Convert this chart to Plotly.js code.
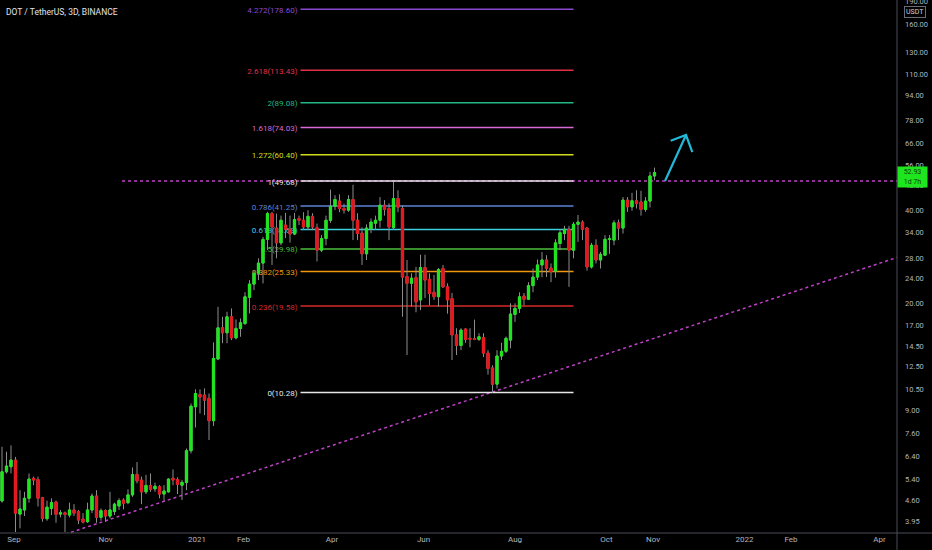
<!DOCTYPE html>
<html><head><meta charset="utf-8">
<script src="https://cdn.plot.ly/plotly-3.0.1.min.js"></script>
<style>html,body{margin:0;padding:0;background:#000;}#chart{width:932px;height:550px;}</style>
</head><body><div id="chart"></div>
<script>
// ---- candle data (3D bars, DOT/USDT) ----
const firstBarDate = '2020-08-24';
const barStepDays = 3;
const open = [4.59,5.70,5.92,6.22,4.16,4.29,4.68,5.43,5.38,4.70,
4.02,4.34,4.55,4.16,4.20,4.13,4.29,4.24,4.01,3.93,
4.29,4.76,4.06,4.27,4.10,4.24,4.42,4.62,4.53,4.80,
5.59,5.36,4.91,5.15,5.02,5.10,4.83,4.91,5.43,5.38,
5.16,5.26,6.67,9.25,10.13,10.10,9.85,8.34,13.20,16.65,
16.05,18.08,15.46,16.58,17.20,20.90,23.06,25.00,26.97,32.17,
39.00,35.00,31.35,35.80,34.70,33.50,37.60,37.10,35.30,38.20,
35.10,29.70,32.40,37.10,41.20,42.80,40.50,40.00,43.30,37.10,
33.70,28.90,34.80,36.30,37.10,41.50,40.50,35.10,43.60,40.50,
24.40,23.20,24.20,20.50,26.10,23.90,21.70,21.00,25.90,22.60,
20.70,15.80,14.60,16.50,15.40,15.35,15.28,15.50,13.80,12.35,
10.95,13.50,13.98,15.20,18.40,19.24,21.10,20.60,22.80,24.30,
26.60,27.60,26.00,25.40,31.20,33.60,34.70,29.70,36.00,36.60,
35.00,26.20,30.80,27.60,28.60,32.20,32.00,36.40,35.00,43.10,
41.00,42.90,42.50,40.20,42.80,51.60];
const high = [6.87,6.62,6.94,6.37,4.97,4.91,5.63,5.50,5.50,4.73,
4.60,4.68,4.60,4.29,4.24,4.53,4.48,4.29,4.19,4.53,
4.85,4.97,4.34,4.31,4.91,4.53,4.68,4.68,5.00,5.89,
6.13,5.50,5.57,5.63,5.26,5.16,5.16,5.43,5.80,5.47,
5.36,6.78,9.48,10.53,10.53,10.61,10.21,14.94,19.47,18.08,
18.77,19.24,17.73,17.86,21.72,23.76,25.60,27.95,32.80,39.50,
39.50,39.00,38.40,39.20,38.40,39.20,38.40,39.40,40.00,39.10,
36.20,33.20,38.40,46.60,44.70,45.00,42.00,44.70,48.30,39.10,
35.20,36.00,37.60,38.40,44.10,43.10,42.10,49.40,46.40,41.50,
27.60,25.00,26.20,28.70,28.70,25.00,24.70,26.00,26.60,23.20,
21.60,16.60,16.60,16.60,16.60,17.70,16.00,16.00,14.10,12.60,
14.10,14.90,15.60,20.00,20.00,21.70,21.60,23.40,25.90,27.70,
29.30,28.60,26.90,32.20,34.70,35.60,35.60,36.60,38.60,37.10,
35.30,31.35,32.20,29.30,33.20,33.20,37.10,37.30,44.10,44.10,
45.50,46.40,46.20,44.10,53.20,54.90];
const low = [4.53,5.63,5.63,3.64,3.74,4.10,4.53,5.16,4.40,3.93,
3.96,4.13,3.90,4.06,3.64,4.06,4.10,3.86,3.88,3.90,
4.19,3.90,3.96,3.93,4.03,4.13,4.29,4.31,4.48,4.73,
5.23,4.48,4.83,4.91,4.91,4.68,4.60,4.88,5.16,4.83,
4.62,4.97,6.54,7.93,8.80,8.69,7.22,8.02,13.09,14.85,
14.85,15.20,15.28,15.58,17.00,18.54,22.05,23.76,23.18,29.70,
26.60,27.95,30.80,32.50,31.40,33.20,35.80,34.50,34.50,34.50,
27.30,29.30,30.80,36.40,40.00,39.40,39.00,39.50,32.00,32.00,
26.60,27.60,33.70,34.50,35.10,38.40,32.00,34.50,39.40,18.08,
13.60,19.50,18.70,19.00,20.80,19.70,20.50,19.50,22.40,18.50,
13.10,13.60,14.10,14.90,14.40,15.20,15.10,13.40,11.75,10.28,
10.60,13.10,13.80,14.30,17.40,18.60,19.70,20.50,21.70,23.76,
24.30,24.30,23.40,24.20,29.70,32.00,22.60,27.95,31.60,32.00,
25.50,25.90,26.90,25.90,28.40,28.90,30.80,32.00,33.60,39.50,
39.80,40.50,38.40,39.50,40.80,50.00];
const close = [5.70,5.95,6.22,4.19,4.32,4.68,5.40,5.36,4.68,4.03,
4.38,4.53,4.15,4.20,4.15,4.29,4.19,3.98,3.92,4.29,
4.76,4.06,4.27,4.10,4.29,4.48,4.60,4.51,4.80,5.59,
5.33,4.91,5.15,5.00,5.12,4.83,4.94,5.40,5.36,5.19,
5.27,6.67,9.29,10.21,9.95,9.72,8.34,13.26,16.65,16.05,
18.08,15.46,16.58,17.29,20.98,23.06,25.00,26.97,32.17,39.00,
35.30,31.35,37.10,34.70,33.50,37.30,37.10,35.30,38.20,35.30,
29.70,32.40,37.10,41.20,43.30,40.50,40.00,43.30,37.10,33.60,
28.90,35.00,36.60,37.10,41.50,40.20,35.30,43.60,40.90,24.30,
23.20,24.10,20.20,26.10,23.76,21.50,21.00,25.70,22.60,20.50,
15.80,14.60,16.37,15.28,15.30,15.28,15.58,13.80,12.30,10.95,
13.50,13.98,15.40,18.45,19.24,20.98,20.60,22.80,24.30,26.60,
27.60,25.90,25.30,31.35,33.80,34.70,29.70,36.00,36.60,34.70,
26.20,30.80,27.60,28.80,32.20,32.30,36.40,35.00,43.10,41.00,
42.90,42.00,40.20,42.80,51.60,52.93];

// ---- fibonacci extension levels ----
const fibLevels = ['0','0.236','0.382','0.5','0.618','0.786','1','1.272','1.618','2','2.618','4.272'];
const fibPrices = [10.28,19.58,25.33,29.98,34.63,41.25,49.68,60.40,74.03,89.08,113.43,178.60];
const fibColors = ['#e6e6e6','#d42a2a','#f0960e','#4cbf3c','#3fd0e0','#5d83d6','#e6e6e6','#d2dc1c','#d86ad8','#22b884','#e03048','#8a4ad0'];
const fibStart = '2021-03-11';
const fibEnd = '2021-09-09';

// ---- drawings ----
const resistancePrice = 49.68;
const resistanceStart = '2020-11-12';
const trendDates = ['2020-10-11', '2021-07-19'];
const trendPrices = [3.66, 10.40];
const arrowX = ['2021-11-09', '2021-11-23', null, '2021-11-12 19:00', '2021-11-23', '2021-11-27 05:00'];
const arrowY = [49.68, 70.0, null, 67.1, 70.0, 61.6];

// ---- axes ----
const xTickVals = ['2020-09-01','2020-11-01','2021-01-01','2021-02-01','2021-04-01','2021-06-01','2021-08-01','2021-10-01','2021-11-01','2022-01-01','2022-02-01','2022-04-01'];
const xTickText = ['Sep','Nov','2021','Feb','Apr','Jun','Aug','Oct','Nov','2022','Feb','Apr'];
const yTickVals = [3.95,4.6,5.4,6.4,7.6,9,10.5,12.5,14.5,17,20,24,28,34,40,48,56,66,78,94,110,130,160,190];
const xRange = ['2020-08-22 16:00', '2022-04-12 16:00'];
const yRange = [3.614, 191.3];

const GREEN = '#1ee61e', RED = '#e8161e', WICK = '#8c8c8c', DOTS = '#c040c8', AXIS = '#4a4d57', TXT = '#b2b5be';
const FONT = "Roboto, 'DejaVu Sans', sans-serif";

const DAY = 86400000;
const t0 = Date.parse(firstBarDate + 'T00:00:00Z');
const dates = open.map((_, i) => new Date(t0 + i * barStepDays * DAY).toISOString().slice(0, 10));
const bodyHigh = open.map((o, i) => Math.max(o, close[i]));
const bodyLow = open.map((o, i) => Math.min(o, close[i]));

// trendline ray through two anchor points (straight on log scale)
const tA = Date.parse(trendDates[0] + 'T00:00:00Z'), tB = Date.parse(trendDates[1] + 'T00:00:00Z');
const lA = Math.log10(trendPrices[0]), lB = Math.log10(trendPrices[1]);
const trendAt = t => Math.pow(10, lA + (t - tA) / (tB - tA) * (lB - lA));
const tS = Date.parse('2020-09-20T00:00:00Z'), tE = Date.parse('2022-06-01T00:00:00Z');

const traces = [
  { type: 'candlestick', x: dates, open: open, high: high, low: low, close: close,
    increasing: { line: { color: WICK, width: 1 }, fillcolor: WICK },
    decreasing: { line: { color: WICK, width: 1 }, fillcolor: WICK },
    whiskerwidth: 0, hoverinfo: 'skip', showlegend: false },
  { type: 'candlestick', x: dates, open: open, high: bodyHigh, low: bodyLow, close: close,
    increasing: { line: { color: GREEN, width: 1 }, fillcolor: GREEN },
    decreasing: { line: { color: RED, width: 1 }, fillcolor: RED },
    whiskerwidth: 0, hoverinfo: 'skip', showlegend: false },
  { type: 'scatter', mode: 'lines', x: arrowX, y: arrowY, connectgaps: false,
    line: { color: '#22b8d8', width: 2.2 }, hoverinfo: 'skip', showlegend: false }
];

const shapes = [];
shapes.push({ type: 'line', xref: 'x', yref: 'y', layer: 'below', x0: resistanceStart, x1: '2022-06-01',
  y0: resistancePrice, y1: resistancePrice, line: { color: DOTS, width: 1.5, dash: 'dot' } });
shapes.push({ type: 'line', xref: 'x', yref: 'y', layer: 'below',
  x0: new Date(tS).toISOString(), x1: new Date(tE).toISOString(), y0: trendAt(tS), y1: trendAt(tE),
  line: { color: DOTS, width: 1.5, dash: 'dot' } });
fibPrices.forEach((p, i) => {
  shapes.push({ type: 'line', xref: 'x', yref: 'y', layer: 'below', x0: fibStart, x1: fibEnd, y0: p, y1: p,
    line: { color: fibColors[i], width: 1.5 },
    label: { text: fibLevels[i] + '(' + p.toFixed(2) + ')', textposition: 'start', xanchor: 'right', yanchor: 'middle',
      textangle: 0, padding: 3, font: { family: FONT, size: 8, color: fibColors[i] } } });
});
// chart frame lines
shapes.push({ type: 'line', xref: 'paper', yref: 'paper', x0: 0, x1: 932 / 897, y0: 0, y1: 0, line: { color: AXIS, width: 1 } });
shapes.push({ type: 'line', xref: 'paper', yref: 'paper', x0: 1, x1: 1, y0: -17 / 533, y1: 1, line: { color: AXIS, width: 1 } });

const last = close[close.length - 1];
const annotations = [
  { xref: 'paper', yref: 'paper', x: 0, y: 1, xanchor: 'left', yanchor: 'top', xshift: 4, yshift: -5, showarrow: false,
    text: 'DOT / TetherUS, 3D, BINANCE', font: { family: FONT, size: 8.5, color: '#e0e3eb' } },
  { xref: 'paper', yref: 'y', x: 1, y: Math.log10(last), xanchor: 'left', yanchor: 'middle', yshift: -4, showarrow: false,
    text: last.toFixed(2) + '<br>1d 7h', bgcolor: GREEN, borderpad: 1, width: 27, height: 18, align: 'center',
    font: { family: FONT, size: 7, color: '#0b3d0b' } },
  { xref: 'paper', yref: 'paper', x: 1, y: 1, xanchor: 'left', yanchor: 'top', xshift: 7, yshift: -6, showarrow: false,
    text: 'USDT', bgcolor: '#000', bordercolor: '#6a6d78', borderwidth: 1, borderpad: 1,
    font: { family: FONT, size: 7, color: '#d1d4dc' } }
];

const layout = {
  width: 932, height: 550,
  margin: { l: 0, r: 35, t: 0, b: 17, pad: 0 },
  paper_bgcolor: '#000', plot_bgcolor: '#000',
  showlegend: false,
  boxgap: 0.3, boxgroupgap: 0.3,
  xaxis: { type: 'date', range: xRange, rangeslider: { visible: false }, showgrid: false, zeroline: false,
    showline: false, ticks: '', tickmode: 'array', tickvals: xTickVals, ticktext: xTickText,
    tickfont: { family: FONT, size: 8, color: TXT } },
  yaxis: { type: 'log', side: 'right', range: yRange.map(v => Math.log10(v)), showgrid: false, zeroline: false,
    showline: false, ticks: '', tickmode: 'array', tickvals: yTickVals, ticktext: yTickVals.map(v => v.toFixed(2)),
    ticklabelstandoff: 7, ticklabeloverflow: 'allow', tickfont: { family: FONT, size: 7.5, color: TXT } },
  shapes: shapes,
  annotations: annotations
};

Plotly.newPlot('chart', traces, layout, { staticPlot: true, displayModeBar: false });
</script></body></html>
